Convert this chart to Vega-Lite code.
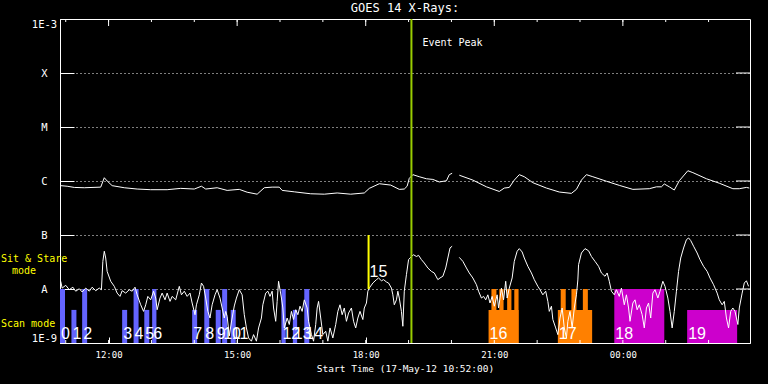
{
  "$schema": "https://vega.github.io/schema/vega-lite/v6.json",
  "width": 690,
  "height": 324,
  "autosize": "none",
  "padding": {"left": 60, "top": 19, "right": 18, "bottom": 41},
  "background": "black",
  "title": {"text": "GOES 14 X-Rays:", "color": "white", "font": "DejaVu Sans Mono", "fontSize": 12, "fontWeight": "normal", "anchor": "middle", "offset": 3},
  "config": {"view": {"stroke": "white", "strokeWidth": 1}},
  "datasets": {
    "hours": [
      {"t": "2012-05-17T11:00", "major": false}, {"t": "2012-05-17T12:00", "major": true},
      {"t": "2012-05-17T13:00", "major": false}, {"t": "2012-05-17T14:00", "major": false},
      {"t": "2012-05-17T15:00", "major": true}, {"t": "2012-05-17T16:00", "major": false},
      {"t": "2012-05-17T17:00", "major": false}, {"t": "2012-05-17T18:00", "major": true},
      {"t": "2012-05-17T19:00", "major": false}, {"t": "2012-05-17T20:00", "major": false},
      {"t": "2012-05-17T21:00", "major": true}, {"t": "2012-05-17T22:00", "major": false},
      {"t": "2012-05-17T23:00", "major": false}, {"t": "2012-05-18T00:00", "major": true},
      {"t": "2012-05-18T01:00", "major": false}, {"t": "2012-05-18T02:00", "major": false}
    ],
    "decades": [{"v": 1e-8}, {"v": 1e-7}, {"v": 1e-6}, {"v": 1e-5}, {"v": 1e-4}],
    "bars": [
      {"grp": "blue", "t": "2012-05-17T10:52", "t2": "2012-05-17T10:59", "v": 1e-8},
      {"grp": "blue", "t": "2012-05-17T11:08", "t2": "2012-05-17T11:15", "v": 4.1e-9},
      {"grp": "blue", "t": "2012-05-17T11:23", "t2": "2012-05-17T11:30", "v": 1e-8},
      {"grp": "blue", "t": "2012-05-17T12:19", "t2": "2012-05-17T12:26", "v": 4.1e-9},
      {"grp": "blue", "t": "2012-05-17T12:35", "t2": "2012-05-17T12:42", "v": 1e-8},
      {"grp": "blue", "t": "2012-05-17T12:50", "t2": "2012-05-17T12:57", "v": 4.1e-9},
      {"grp": "blue", "t": "2012-05-17T13:01", "t2": "2012-05-17T13:07", "v": 1e-8},
      {"grp": "blue", "t": "2012-05-17T13:57", "t2": "2012-05-17T14:04", "v": 4.1e-9},
      {"grp": "blue", "t": "2012-05-17T14:14", "t2": "2012-05-17T14:21", "v": 1e-8},
      {"grp": "blue", "t": "2012-05-17T14:30", "t2": "2012-05-17T14:37", "v": 4.1e-9},
      {"grp": "blue", "t": "2012-05-17T14:39", "t2": "2012-05-17T14:46", "v": 1e-8},
      {"grp": "blue", "t": "2012-05-17T14:51", "t2": "2012-05-17T14:58", "v": 4.1e-9},
      {"grp": "blue", "t": "2012-05-17T16:02", "t2": "2012-05-17T16:08", "v": 1e-8},
      {"grp": "blue", "t": "2012-05-17T16:18", "t2": "2012-05-17T16:24", "v": 4.1e-9},
      {"grp": "blue", "t": "2012-05-17T16:34", "t2": "2012-05-17T16:41", "v": 1e-8},
      {"grp": "orange", "t": "2012-05-17T20:52", "t2": "2012-05-17T21:34", "v": 4.1e-9},
      {"grp": "orange", "t": "2012-05-17T20:56", "t2": "2012-05-17T21:03", "v": 1e-8},
      {"grp": "orange", "t": "2012-05-17T21:07", "t2": "2012-05-17T21:13", "v": 1e-8},
      {"grp": "orange", "t": "2012-05-17T21:18", "t2": "2012-05-17T21:24", "v": 1e-8},
      {"grp": "orange", "t": "2012-05-17T21:28", "t2": "2012-05-17T21:34", "v": 1e-8},
      {"grp": "orange", "t": "2012-05-17T22:29", "t2": "2012-05-17T23:17", "v": 4.1e-9},
      {"grp": "orange", "t": "2012-05-17T22:33", "t2": "2012-05-17T22:40", "v": 1e-8},
      {"grp": "orange", "t": "2012-05-17T22:48", "t2": "2012-05-17T22:55", "v": 1e-8},
      {"grp": "orange", "t": "2012-05-17T23:04", "t2": "2012-05-17T23:11", "v": 1e-8},
      {"grp": "magenta", "t": "2012-05-17T23:48", "t2": "2012-05-18T00:58", "v": 1e-8},
      {"grp": "magenta", "t": "2012-05-18T01:30", "t2": "2012-05-18T02:40", "v": 4.1e-9}
    ],
    "labels": [
      {"label": "0", "t": "2012-05-17T10:52", "v": 1e-9},
      {"label": "1", "t": "2012-05-17T11:08", "v": 1e-9},
      {"label": "2", "t": "2012-05-17T11:23", "v": 1e-9},
      {"label": "3", "t": "2012-05-17T12:19", "v": 1e-9},
      {"label": "4", "t": "2012-05-17T12:35", "v": 1e-9},
      {"label": "5", "t": "2012-05-17T12:50", "v": 1e-9},
      {"label": "6", "t": "2012-05-17T13:01", "v": 1e-9},
      {"label": "7", "t": "2012-05-17T13:57", "v": 1e-9},
      {"label": "8", "t": "2012-05-17T14:14", "v": 1e-9},
      {"label": "9", "t": "2012-05-17T14:30", "v": 1e-9},
      {"label": "10", "t": "2012-05-17T14:39", "v": 1e-9},
      {"label": "11", "t": "2012-05-17T14:51", "v": 1e-9},
      {"label": "12", "t": "2012-05-17T16:02", "v": 1e-9},
      {"label": "13", "t": "2012-05-17T16:18", "v": 1e-9},
      {"label": "14", "t": "2012-05-17T16:34", "v": 1e-9},
      {"label": "15", "t": "2012-05-17T18:04", "v": 1.4e-8},
      {"label": "16", "t": "2012-05-17T20:52", "v": 1e-9},
      {"label": "17", "t": "2012-05-17T22:29", "v": 1e-9},
      {"label": "18", "t": "2012-05-17T23:48", "v": 1e-9},
      {"label": "19", "t": "2012-05-18T01:30", "v": 1e-9}
    ],
    "flux": [
      {"s": "hi", "t": "2012-05-17T10:53", "v": 8.2e-7},
      {"s": "hi", "t": "2012-05-17T11:02", "v": 8.0e-7},
      {"s": "hi", "t": "2012-05-17T11:12", "v": 7.6e-7},
      {"s": "hi", "t": "2012-05-17T11:26", "v": 7.5e-7},
      {"s": "hi", "t": "2012-05-17T11:49", "v": 7.7e-7},
      {"s": "hi", "t": "2012-05-17T11:54", "v": 1.15e-6},
      {"s": "hi", "t": "2012-05-17T11:58", "v": 1.0e-6},
      {"s": "hi", "t": "2012-05-17T12:05", "v": 8.2e-7},
      {"s": "hi", "t": "2012-05-17T12:22", "v": 7.5e-7},
      {"s": "hi", "t": "2012-05-17T12:40", "v": 7.1e-7},
      {"s": "hi", "t": "2012-05-17T12:59", "v": 6.9e-7},
      {"s": "hi", "t": "2012-05-17T13:22", "v": 6.9e-7},
      {"s": "hi", "t": "2012-05-17T13:41", "v": 7.3e-7},
      {"s": "hi", "t": "2012-05-17T14:00", "v": 7.1e-7},
      {"s": "hi", "t": "2012-05-17T14:10", "v": 8.0e-7},
      {"s": "hi", "t": "2012-05-17T14:16", "v": 7.1e-7},
      {"s": "hi", "t": "2012-05-17T14:32", "v": 7.5e-7},
      {"s": "hi", "t": "2012-05-17T14:46", "v": 6.7e-7},
      {"s": "hi", "t": "2012-05-17T15:03", "v": 7.0e-7},
      {"s": "hi", "t": "2012-05-17T15:14", "v": 6.2e-7},
      {"s": "hi", "t": "2012-05-17T15:28", "v": 5.7e-7},
      {"s": "hi", "t": "2012-05-17T15:38", "v": 7.5e-7},
      {"s": "hi", "t": "2012-05-17T15:49", "v": 7.7e-7},
      {"s": "hi", "t": "2012-05-17T15:59", "v": 7.7e-7},
      {"s": "hi", "t": "2012-05-17T16:03", "v": 6.7e-7},
      {"s": "hi", "t": "2012-05-17T16:20", "v": 6.3e-7},
      {"s": "hi", "t": "2012-05-17T16:43", "v": 5.8e-7},
      {"s": "hi", "t": "2012-05-17T17:02", "v": 5.7e-7},
      {"s": "hi", "t": "2012-05-17T17:20", "v": 6.0e-7},
      {"s": "hi", "t": "2012-05-17T17:39", "v": 5.7e-7},
      {"s": "hi", "t": "2012-05-17T17:58", "v": 6.0e-7},
      {"s": "hi", "t": "2012-05-17T18:05", "v": 7.3e-7},
      {"s": "hi", "t": "2012-05-17T18:19", "v": 8.9e-7},
      {"s": "hi", "t": "2012-05-17T18:35", "v": 8.4e-7},
      {"s": "hi", "t": "2012-05-17T18:47", "v": 7.0e-7},
      {"s": "hi", "t": "2012-05-17T18:54", "v": 7.1e-7},
      {"s": "hi", "t": "2012-05-17T18:58", "v": 8.0e-7},
      {"s": "hi", "t": "2012-05-17T19:01", "v": 1.12e-6},
      {"s": "hi", "t": "2012-05-17T19:06", "v": 1.31e-6},
      {"s": "hi", "t": "2012-05-17T19:15", "v": 1.2e-6},
      {"s": "hi", "t": "2012-05-17T19:25", "v": 1.1e-6},
      {"s": "hi", "t": "2012-05-17T19:34", "v": 1.07e-6},
      {"s": "hi", "t": "2012-05-17T19:43", "v": 9.6e-7},
      {"s": "hi", "t": "2012-05-17T19:53", "v": 1.01e-6},
      {"s": "hi", "t": "2012-05-17T19:57", "v": 1.31e-6},
      {"s": "hi", "t": "2012-05-17T20:01", "v": 1.39e-6},
      {"s": "hi2", "t": "2012-05-17T20:11", "v": 1.28e-6},
      {"s": "hi2", "t": "2012-05-17T20:30", "v": 1.04e-6},
      {"s": "hi2", "t": "2012-05-17T20:49", "v": 7.8e-7},
      {"s": "hi2", "t": "2012-05-17T21:07", "v": 6.4e-7},
      {"s": "hi2", "t": "2012-05-17T21:14", "v": 7.4e-7},
      {"s": "hi2", "t": "2012-05-17T21:21", "v": 7.6e-7},
      {"s": "hi2", "t": "2012-05-17T21:28", "v": 1.04e-6},
      {"s": "hi2", "t": "2012-05-17T21:35", "v": 1.31e-6},
      {"s": "hi2", "t": "2012-05-17T21:42", "v": 1.2e-6},
      {"s": "hi2", "t": "2012-05-17T21:54", "v": 9.3e-7},
      {"s": "hi2", "t": "2012-05-17T22:13", "v": 7.4e-7},
      {"s": "hi2", "t": "2012-05-17T22:31", "v": 6.25e-7},
      {"s": "hi2", "t": "2012-05-17T22:48", "v": 5.9e-7},
      {"s": "hi2", "t": "2012-05-17T22:55", "v": 7.0e-7},
      {"s": "hi2", "t": "2012-05-17T23:02", "v": 1.04e-6},
      {"s": "hi2", "t": "2012-05-17T23:09", "v": 1.31e-6},
      {"s": "hi2", "t": "2012-05-17T23:18", "v": 1.2e-6},
      {"s": "hi2", "t": "2012-05-17T23:37", "v": 9.9e-7},
      {"s": "hi2", "t": "2012-05-17T23:55", "v": 8.3e-7},
      {"s": "hi2", "t": "2012-05-18T00:14", "v": 7.0e-7},
      {"s": "hi2", "t": "2012-05-18T00:37", "v": 7.2e-7},
      {"s": "hi2", "t": "2012-05-18T00:47", "v": 7.8e-7},
      {"s": "hi2", "t": "2012-05-18T00:54", "v": 7.8e-7},
      {"s": "hi2", "t": "2012-05-18T00:58", "v": 8.8e-7},
      {"s": "hi2", "t": "2012-05-18T01:05", "v": 7.8e-7},
      {"s": "hi2", "t": "2012-05-18T01:12", "v": 6.8e-7},
      {"s": "hi2", "t": "2012-05-18T01:19", "v": 1.01e-6},
      {"s": "hi2", "t": "2012-05-18T01:31", "v": 1.55e-6},
      {"s": "hi2", "t": "2012-05-18T01:38", "v": 1.43e-6},
      {"s": "hi2", "t": "2012-05-18T01:57", "v": 1.1e-6},
      {"s": "hi2", "t": "2012-05-18T02:15", "v": 9.1e-7},
      {"s": "hi2", "t": "2012-05-18T02:34", "v": 7.2e-7},
      {"s": "hi2", "t": "2012-05-18T02:43", "v": 7.2e-7},
      {"s": "hi2", "t": "2012-05-18T02:53", "v": 7.6e-7},
      {"s": "hi2", "t": "2012-05-18T02:57", "v": 7.4e-7},
      {"s": "lo", "t": "2012-05-17T10:53", "v": 1.39e-8},
      {"s": "lo", "t": "2012-05-17T10:55", "v": 1.04e-8},
      {"s": "lo", "t": "2012-05-17T11:00", "v": 1.17e-8},
      {"s": "lo", "t": "2012-05-17T11:05", "v": 9.7e-9},
      {"s": "lo", "t": "2012-05-17T11:10", "v": 1.08e-8},
      {"s": "lo", "t": "2012-05-17T11:14", "v": 9.1e-9},
      {"s": "lo", "t": "2012-05-17T11:19", "v": 1.01e-8},
      {"s": "lo", "t": "2012-05-17T11:23", "v": 8.8e-9},
      {"s": "lo", "t": "2012-05-17T11:28", "v": 1.04e-8},
      {"s": "lo", "t": "2012-05-17T11:33", "v": 9.1e-9},
      {"s": "lo", "t": "2012-05-17T11:37", "v": 1.08e-8},
      {"s": "lo", "t": "2012-05-17T11:42", "v": 9.3e-9},
      {"s": "lo", "t": "2012-05-17T11:47", "v": 1.04e-8},
      {"s": "lo", "t": "2012-05-17T11:50", "v": 9.7e-9},
      {"s": "lo", "t": "2012-05-17T11:52", "v": 3.25e-8},
      {"s": "lo", "t": "2012-05-17T11:54", "v": 5.0e-8},
      {"s": "lo", "t": "2012-05-17T11:56", "v": 3.75e-8},
      {"s": "lo", "t": "2012-05-17T11:58", "v": 2.12e-8},
      {"s": "lo", "t": "2012-05-17T12:03", "v": 1.39e-8},
      {"s": "lo", "t": "2012-05-17T12:08", "v": 1.12e-8},
      {"s": "lo", "t": "2012-05-17T12:12", "v": 8.4e-9},
      {"s": "lo", "t": "2012-05-17T12:16", "v": 7.3e-9},
      {"s": "lo", "t": "2012-05-17T12:19", "v": 9.3e-9},
      {"s": "lo", "t": "2012-05-17T12:24", "v": 8.4e-9},
      {"s": "lo", "t": "2012-05-17T12:29", "v": 9.7e-9},
      {"s": "lo", "t": "2012-05-17T12:33", "v": 9.1e-9},
      {"s": "lo", "t": "2012-05-17T12:37", "v": 1.08e-8},
      {"s": "lo", "t": "2012-05-17T12:40", "v": 7.8e-9},
      {"s": "lo", "t": "2012-05-17T12:45", "v": 5.1e-9},
      {"s": "lo", "t": "2012-05-17T12:49", "v": 3.85e-9},
      {"s": "lo", "t": "2012-05-17T12:52", "v": 5.1e-9},
      {"s": "lo", "t": "2012-05-17T12:55", "v": 7.3e-9},
      {"s": "lo", "t": "2012-05-17T12:59", "v": 6.3e-9},
      {"s": "lo", "t": "2012-05-17T13:03", "v": 9.1e-9},
      {"s": "lo", "t": "2012-05-17T13:06", "v": 6.8e-9},
      {"s": "lo", "t": "2012-05-17T13:08", "v": 4.13e-9},
      {"s": "lo", "t": "2012-05-17T13:12", "v": 6.8e-9},
      {"s": "lo", "t": "2012-05-17T13:15", "v": 8.4e-9},
      {"s": "lo", "t": "2012-05-17T13:19", "v": 6.3e-9},
      {"s": "lo", "t": "2012-05-17T13:22", "v": 8.4e-9},
      {"s": "lo", "t": "2012-05-17T13:26", "v": 5.9e-9},
      {"s": "lo", "t": "2012-05-17T13:29", "v": 7.3e-9},
      {"s": "lo", "t": "2012-05-17T13:34", "v": 6.3e-9},
      {"s": "lo", "t": "2012-05-17T13:39", "v": 1.12e-8},
      {"s": "lo", "t": "2012-05-17T13:42", "v": 7.8e-9},
      {"s": "lo", "t": "2012-05-17T13:46", "v": 9.1e-9},
      {"s": "lo", "t": "2012-05-17T13:50", "v": 7.3e-9},
      {"s": "lo", "t": "2012-05-17T13:54", "v": 8.4e-9},
      {"s": "lo", "t": "2012-05-17T13:57", "v": 5.5e-9},
      {"s": "lo", "t": "2012-05-17T14:01", "v": 3.34e-9},
      {"s": "lo", "t": "2012-05-17T14:03", "v": 5.1e-9},
      {"s": "lo", "t": "2012-05-17T14:07", "v": 7.8e-9},
      {"s": "lo", "t": "2012-05-17T14:10", "v": 1.29e-8},
      {"s": "lo", "t": "2012-05-17T14:13", "v": 1.12e-8},
      {"s": "lo", "t": "2012-05-17T14:16", "v": 6.8e-9},
      {"s": "lo", "t": "2012-05-17T14:19", "v": 3.85e-9},
      {"s": "lo", "t": "2012-05-17T14:22", "v": 2.9e-9},
      {"s": "lo", "t": "2012-05-17T14:25", "v": 5.1e-9},
      {"s": "lo", "t": "2012-05-17T14:29", "v": 7.8e-9},
      {"s": "lo", "t": "2012-05-17T14:32", "v": 9.7e-9},
      {"s": "lo", "t": "2012-05-17T14:36", "v": 6.8e-9},
      {"s": "lo", "t": "2012-05-17T14:39", "v": 4.45e-9},
      {"s": "lo", "t": "2012-05-17T14:42", "v": 2.9e-9},
      {"s": "lo", "t": "2012-05-17T14:44", "v": 3.85e-9},
      {"s": "lo", "t": "2012-05-17T14:46", "v": 3.12e-9},
      {"s": "lo", "t": "2012-05-17T14:49", "v": 1.35e-9},
      {"s": "lo", "t": "2012-05-17T14:52", "v": 2.45e-9},
      {"s": "lo", "t": "2012-05-17T14:56", "v": 4.85e-9},
      {"s": "lo", "t": "2012-05-17T14:59", "v": 6.8e-9},
      {"s": "lo", "t": "2012-05-17T15:03", "v": 9.7e-9},
      {"s": "lo", "t": "2012-05-17T15:07", "v": 7.8e-9},
      {"s": "lo", "t": "2012-05-17T15:10", "v": 3.34e-9},
      {"s": "lo", "t": "2012-05-17T15:13", "v": 1.9e-9},
      {"s": "lo", "t": "2012-05-17T15:16", "v": 1.24e-9},
      {"s": "lo", "t": "2012-05-17T15:20", "v": 1.08e-9},
      {"s": "lo", "t": "2012-05-17T15:23", "v": 1.43e-9},
      {"s": "lo", "t": "2012-05-17T15:27", "v": 1.08e-9},
      {"s": "lo", "t": "2012-05-17T15:30", "v": 1.9e-9},
      {"s": "lo", "t": "2012-05-17T15:34", "v": 2.9e-9},
      {"s": "lo", "t": "2012-05-17T15:36", "v": 5.1e-9},
      {"s": "lo", "t": "2012-05-17T15:40", "v": 8.4e-9},
      {"s": "lo", "t": "2012-05-17T15:43", "v": 9.1e-9},
      {"s": "lo", "t": "2012-05-17T15:46", "v": 7.3e-9},
      {"s": "lo", "t": "2012-05-17T15:49", "v": 9.1e-9},
      {"s": "lo", "t": "2012-05-17T15:51", "v": 4.45e-9},
      {"s": "lo", "t": "2012-05-17T15:54", "v": 2.52e-9},
      {"s": "lo", "t": "2012-05-17T15:56", "v": 5.9e-9},
      {"s": "lo", "t": "2012-05-17T15:58", "v": 1.39e-8},
      {"s": "lo", "t": "2012-05-17T16:02", "v": 6.8e-9},
      {"s": "lo", "t": "2012-05-17T16:04", "v": 4.45e-9},
      {"s": "lo", "t": "2012-05-17T16:06", "v": 1.9e-9},
      {"s": "lo", "t": "2012-05-17T16:10", "v": 2.9e-9},
      {"s": "lo", "t": "2012-05-17T16:13", "v": 2.2e-9},
      {"s": "lo", "t": "2012-05-17T16:16", "v": 3.85e-9},
      {"s": "lo", "t": "2012-05-17T16:19", "v": 2.72e-9},
      {"s": "lo", "t": "2012-05-17T16:22", "v": 4.13e-9},
      {"s": "lo", "t": "2012-05-17T16:25", "v": 3.34e-9},
      {"s": "lo", "t": "2012-05-17T16:28", "v": 4.8e-9},
      {"s": "lo", "t": "2012-05-17T16:31", "v": 3.85e-9},
      {"s": "lo", "t": "2012-05-17T16:34", "v": 6.3e-9},
      {"s": "lo", "t": "2012-05-17T16:38", "v": 4.45e-9},
      {"s": "lo", "t": "2012-05-17T16:40", "v": 2.52e-9},
      {"s": "lo", "t": "2012-05-17T16:44", "v": 1.43e-9},
      {"s": "lo", "t": "2012-05-17T16:47", "v": 1.08e-9},
      {"s": "lo", "t": "2012-05-17T16:50", "v": 2.2e-9},
      {"s": "lo", "t": "2012-05-17T16:52", "v": 4.45e-9},
      {"s": "lo", "t": "2012-05-17T16:54", "v": 5.9e-9},
      {"s": "lo", "t": "2012-05-17T16:57", "v": 2.9e-9},
      {"s": "lo", "t": "2012-05-17T17:00", "v": 1.43e-9},
      {"s": "lo", "t": "2012-05-17T17:04", "v": 1.65e-9},
      {"s": "lo", "t": "2012-05-17T17:07", "v": 1.08e-9},
      {"s": "lo", "t": "2012-05-17T17:10", "v": 1.9e-9},
      {"s": "lo", "t": "2012-05-17T17:14", "v": 1.24e-9},
      {"s": "lo", "t": "2012-05-17T17:18", "v": 2.2e-9},
      {"s": "lo", "t": "2012-05-17T17:21", "v": 3.85e-9},
      {"s": "lo", "t": "2012-05-17T17:24", "v": 5.1e-9},
      {"s": "lo", "t": "2012-05-17T17:27", "v": 3.34e-9},
      {"s": "lo", "t": "2012-05-17T17:30", "v": 4.45e-9},
      {"s": "lo", "t": "2012-05-17T17:33", "v": 2.52e-9},
      {"s": "lo", "t": "2012-05-17T17:36", "v": 3.59e-9},
      {"s": "lo", "t": "2012-05-17T17:40", "v": 4.45e-9},
      {"s": "lo", "t": "2012-05-17T17:43", "v": 2.52e-9},
      {"s": "lo", "t": "2012-05-17T17:46", "v": 1.9e-9},
      {"s": "lo", "t": "2012-05-17T17:49", "v": 2.9e-9},
      {"s": "lo", "t": "2012-05-17T17:52", "v": 3.85e-9},
      {"s": "lo", "t": "2012-05-17T17:56", "v": 2.72e-9},
      {"s": "lo", "t": "2012-05-17T17:58", "v": 4.45e-9},
      {"s": "lo", "t": "2012-05-17T18:01", "v": 5.5e-9},
      {"s": "lo", "t": "2012-05-17T18:03", "v": 9.1e-9},
      {"s": "lo", "t": "2012-05-17T18:05", "v": 1.04e-8},
      {"s": "lo", "t": "2012-05-17T18:10", "v": 1.29e-8},
      {"s": "lo", "t": "2012-05-17T18:15", "v": 1.49e-8},
      {"s": "lo", "t": "2012-05-17T18:18", "v": 1.6e-8},
      {"s": "lo", "t": "2012-05-17T18:22", "v": 1.42e-8},
      {"s": "lo", "t": "2012-05-17T18:25", "v": 1.49e-8},
      {"s": "lo", "t": "2012-05-17T18:29", "v": 1.35e-8},
      {"s": "lo", "t": "2012-05-17T18:32", "v": 1.29e-8},
      {"s": "lo", "t": "2012-05-17T18:36", "v": 1.04e-8},
      {"s": "lo", "t": "2012-05-17T18:38", "v": 7.8e-9},
      {"s": "lo", "t": "2012-05-17T18:40", "v": 5.1e-9},
      {"s": "lo", "t": "2012-05-17T18:43", "v": 6.3e-9},
      {"s": "lo", "t": "2012-05-17T18:45", "v": 9.1e-9},
      {"s": "lo", "t": "2012-05-17T18:47", "v": 6.8e-9},
      {"s": "lo", "t": "2012-05-17T18:50", "v": 3.85e-9},
      {"s": "lo", "t": "2012-05-17T18:52", "v": 2.04e-9},
      {"s": "lo", "t": "2012-05-17T18:54", "v": 9.1e-9},
      {"s": "lo", "t": "2012-05-17T18:57", "v": 1.84e-8},
      {"s": "lo", "t": "2012-05-17T19:00", "v": 3.5e-8},
      {"s": "lo", "t": "2012-05-17T19:04", "v": 4.0e-8},
      {"s": "lo", "t": "2012-05-17T19:07", "v": 4.3e-8},
      {"s": "lo", "t": "2012-05-17T19:11", "v": 4.0e-8},
      {"s": "lo", "t": "2012-05-17T19:14", "v": 4.2e-8},
      {"s": "lo", "t": "2012-05-17T19:18", "v": 3.5e-8},
      {"s": "lo", "t": "2012-05-17T19:22", "v": 3.03e-8},
      {"s": "lo", "t": "2012-05-17T19:27", "v": 2.45e-8},
      {"s": "lo", "t": "2012-05-17T19:32", "v": 2.12e-8},
      {"s": "lo", "t": "2012-05-17T19:36", "v": 1.98e-8},
      {"s": "lo", "t": "2012-05-17T19:41", "v": 1.49e-8},
      {"s": "lo", "t": "2012-05-17T19:44", "v": 1.6e-8},
      {"s": "lo", "t": "2012-05-17T19:48", "v": 1.72e-8},
      {"s": "lo", "t": "2012-05-17T19:52", "v": 2.45e-8},
      {"s": "lo", "t": "2012-05-17T19:55", "v": 3.75e-8},
      {"s": "lo", "t": "2012-05-17T19:58", "v": 5.75e-8},
      {"s": "lo", "t": "2012-05-17T20:01", "v": 6.2e-8},
      {"s": "lo2", "t": "2012-05-17T20:11", "v": 3.85e-8},
      {"s": "lo2", "t": "2012-05-17T20:16", "v": 3.25e-8},
      {"s": "lo2", "t": "2012-05-17T20:21", "v": 2.45e-8},
      {"s": "lo2", "t": "2012-05-17T20:25", "v": 1.98e-8},
      {"s": "lo2", "t": "2012-05-17T20:30", "v": 1.6e-8},
      {"s": "lo2", "t": "2012-05-17T20:35", "v": 1.2e-8},
      {"s": "lo2", "t": "2012-05-17T20:38", "v": 9.1e-9},
      {"s": "lo2", "t": "2012-05-17T20:42", "v": 6.8e-9},
      {"s": "lo2", "t": "2012-05-17T20:45", "v": 7.3e-9},
      {"s": "lo2", "t": "2012-05-17T20:48", "v": 6.3e-9},
      {"s": "lo2", "t": "2012-05-17T20:51", "v": 7.8e-9},
      {"s": "lo2", "t": "2012-05-17T20:54", "v": 5.5e-9},
      {"s": "lo2", "t": "2012-05-17T20:57", "v": 7.3e-9},
      {"s": "lo2", "t": "2012-05-17T21:00", "v": 4.8e-9},
      {"s": "lo2", "t": "2012-05-17T21:04", "v": 7.8e-9},
      {"s": "lo2", "t": "2012-05-17T21:06", "v": 4.45e-9},
      {"s": "lo2", "t": "2012-05-17T21:10", "v": 1.04e-8},
      {"s": "lo2", "t": "2012-05-17T21:13", "v": 6.3e-9},
      {"s": "lo2", "t": "2012-05-17T21:16", "v": 1.39e-8},
      {"s": "lo2", "t": "2012-05-17T21:18", "v": 6.8e-9},
      {"s": "lo2", "t": "2012-05-17T21:21", "v": 1.04e-8},
      {"s": "lo2", "t": "2012-05-17T21:25", "v": 1.6e-8},
      {"s": "lo2", "t": "2012-05-17T21:28", "v": 3.25e-8},
      {"s": "lo2", "t": "2012-05-17T21:32", "v": 5.0e-8},
      {"s": "lo2", "t": "2012-05-17T21:35", "v": 5.6e-8},
      {"s": "lo2", "t": "2012-05-17T21:39", "v": 4.85e-8},
      {"s": "lo2", "t": "2012-05-17T21:42", "v": 3.75e-8},
      {"s": "lo2", "t": "2012-05-17T21:47", "v": 2.63e-8},
      {"s": "lo2", "t": "2012-05-17T21:52", "v": 1.98e-8},
      {"s": "lo2", "t": "2012-05-17T21:56", "v": 1.49e-8},
      {"s": "lo2", "t": "2012-05-17T22:01", "v": 1.12e-8},
      {"s": "lo2", "t": "2012-05-17T22:04", "v": 9.7e-9},
      {"s": "lo2", "t": "2012-05-17T22:08", "v": 7.8e-9},
      {"s": "lo2", "t": "2012-05-17T22:12", "v": 9.1e-9},
      {"s": "lo2", "t": "2012-05-17T22:15", "v": 5.9e-9},
      {"s": "lo2", "t": "2012-05-17T22:17", "v": 3.85e-9},
      {"s": "lo2", "t": "2012-05-17T22:20", "v": 4.8e-9},
      {"s": "lo2", "t": "2012-05-17T22:22", "v": 2.72e-9},
      {"s": "lo2", "t": "2012-05-17T22:26", "v": 1.9e-9},
      {"s": "lo2", "t": "2012-05-17T22:29", "v": 1.43e-9},
      {"s": "lo2", "t": "2012-05-17T22:32", "v": 2.9e-9},
      {"s": "lo2", "t": "2012-05-17T22:35", "v": 4.45e-9},
      {"s": "lo2", "t": "2012-05-17T22:38", "v": 1.9e-9},
      {"s": "lo2", "t": "2012-05-17T22:41", "v": 1.24e-9},
      {"s": "lo2", "t": "2012-05-17T22:43", "v": 2.52e-9},
      {"s": "lo2", "t": "2012-05-17T22:46", "v": 3.85e-9},
      {"s": "lo2", "t": "2012-05-17T22:49", "v": 1.9e-9},
      {"s": "lo2", "t": "2012-05-17T22:52", "v": 4.45e-9},
      {"s": "lo2", "t": "2012-05-17T22:55", "v": 7.8e-9},
      {"s": "lo2", "t": "2012-05-17T22:57", "v": 1.47e-8},
      {"s": "lo2", "t": "2012-05-17T22:58", "v": 2.82e-8},
      {"s": "lo2", "t": "2012-05-17T23:02", "v": 4.64e-8},
      {"s": "lo2", "t": "2012-05-17T23:07", "v": 5.6e-8},
      {"s": "lo2", "t": "2012-05-17T23:12", "v": 5.1e-8},
      {"s": "lo2", "t": "2012-05-17T23:16", "v": 4.0e-8},
      {"s": "lo2", "t": "2012-05-17T23:21", "v": 3.25e-8},
      {"s": "lo2", "t": "2012-05-17T23:26", "v": 2.63e-8},
      {"s": "lo2", "t": "2012-05-17T23:30", "v": 1.98e-8},
      {"s": "lo2", "t": "2012-05-17T23:35", "v": 1.72e-8},
      {"s": "lo2", "t": "2012-05-17T23:38", "v": 1.98e-8},
      {"s": "lo2", "t": "2012-05-17T23:41", "v": 1.39e-8},
      {"s": "lo2", "t": "2012-05-17T23:44", "v": 9.1e-9},
      {"s": "lo2", "t": "2012-05-17T23:48", "v": 7.8e-9},
      {"s": "lo2", "t": "2012-05-17T23:51", "v": 9.7e-9},
      {"s": "lo2", "t": "2012-05-17T23:55", "v": 7.3e-9},
      {"s": "lo2", "t": "2012-05-17T23:58", "v": 1.04e-8},
      {"s": "lo2", "t": "2012-05-18T00:02", "v": 5.1e-9},
      {"s": "lo2", "t": "2012-05-18T00:05", "v": 7.8e-9},
      {"s": "lo2", "t": "2012-05-18T00:08", "v": 4.45e-9},
      {"s": "lo2", "t": "2012-05-18T00:10", "v": 2.52e-9},
      {"s": "lo2", "t": "2012-05-18T00:14", "v": 5.5e-9},
      {"s": "lo2", "t": "2012-05-18T00:17", "v": 6.3e-9},
      {"s": "lo2", "t": "2012-05-18T00:20", "v": 4.13e-9},
      {"s": "lo2", "t": "2012-05-18T00:23", "v": 5.1e-9},
      {"s": "lo2", "t": "2012-05-18T00:27", "v": 3.34e-9},
      {"s": "lo2", "t": "2012-05-18T00:30", "v": 1.9e-9},
      {"s": "lo2", "t": "2012-05-18T00:33", "v": 4.45e-9},
      {"s": "lo2", "t": "2012-05-18T00:36", "v": 5.5e-9},
      {"s": "lo2", "t": "2012-05-18T00:39", "v": 2.9e-9},
      {"s": "lo2", "t": "2012-05-18T00:42", "v": 8.4e-9},
      {"s": "lo2", "t": "2012-05-18T00:45", "v": 9.7e-9},
      {"s": "lo2", "t": "2012-05-18T00:49", "v": 6.8e-9},
      {"s": "lo2", "t": "2012-05-18T00:52", "v": 9.1e-9},
      {"s": "lo2", "t": "2012-05-18T00:56", "v": 1.39e-8},
      {"s": "lo2", "t": "2012-05-18T00:59", "v": 1.12e-8},
      {"s": "lo2", "t": "2012-05-18T01:03", "v": 6.8e-9},
      {"s": "lo2", "t": "2012-05-18T01:06", "v": 3.85e-9},
      {"s": "lo2", "t": "2012-05-18T01:09", "v": 1.9e-9},
      {"s": "lo2", "t": "2012-05-18T01:12", "v": 3.85e-9},
      {"s": "lo2", "t": "2012-05-18T01:15", "v": 9.1e-9},
      {"s": "lo2", "t": "2012-05-18T01:18", "v": 2.12e-8},
      {"s": "lo2", "t": "2012-05-18T01:21", "v": 3.75e-8},
      {"s": "lo2", "t": "2012-05-18T01:25", "v": 5.75e-8},
      {"s": "lo2", "t": "2012-05-18T01:29", "v": 8.2e-8},
      {"s": "lo2", "t": "2012-05-18T01:32", "v": 8.8e-8},
      {"s": "lo2", "t": "2012-05-18T01:35", "v": 7.9e-8},
      {"s": "lo2", "t": "2012-05-18T01:39", "v": 6.2e-8},
      {"s": "lo2", "t": "2012-05-18T01:44", "v": 4.64e-8},
      {"s": "lo2", "t": "2012-05-18T01:48", "v": 3.5e-8},
      {"s": "lo2", "t": "2012-05-18T01:53", "v": 2.63e-8},
      {"s": "lo2", "t": "2012-05-18T01:58", "v": 2.12e-8},
      {"s": "lo2", "t": "2012-05-18T02:02", "v": 1.6e-8},
      {"s": "lo2", "t": "2012-05-18T02:07", "v": 1.2e-8},
      {"s": "lo2", "t": "2012-05-18T02:12", "v": 8.4e-9},
      {"s": "lo2", "t": "2012-05-18T02:15", "v": 6.3e-9},
      {"s": "lo2", "t": "2012-05-18T02:19", "v": 5.1e-9},
      {"s": "lo2", "t": "2012-05-18T02:22", "v": 5.9e-9},
      {"s": "lo2", "t": "2012-05-18T02:25", "v": 2.9e-9},
      {"s": "lo2", "t": "2012-05-18T02:28", "v": 1.9e-9},
      {"s": "lo2", "t": "2012-05-18T02:31", "v": 3.85e-9},
      {"s": "lo2", "t": "2012-05-18T02:34", "v": 4.45e-9},
      {"s": "lo2", "t": "2012-05-18T02:37", "v": 3.85e-9},
      {"s": "lo2", "t": "2012-05-18T02:41", "v": 2.2e-9},
      {"s": "lo2", "t": "2012-05-18T02:43", "v": 4.45e-9},
      {"s": "lo2", "t": "2012-05-18T02:47", "v": 8.4e-9},
      {"s": "lo2", "t": "2012-05-18T02:50", "v": 1.29e-8},
      {"s": "lo2", "t": "2012-05-18T02:53", "v": 1.42e-8},
      {"s": "lo2", "t": "2012-05-18T02:56", "v": 1.12e-8}
    ]
  },
  "layer": [
    {
      "data": {"name": "bars"},
      "mark": {"type": "rect"},
      "encoding": {
        "x": {"field": "t", "type": "temporal",
          "scale": {"type": "time", "nice": false, "domain": [{"year": 2012, "month": 5, "date": 17, "hours": 10, "minutes": 52}, {"year": 2012, "month": 5, "date": 18, "hours": 2, "minutes": 58}]},
          "axis": {"orient": "bottom",
            "values": [{"year": 2012, "month": 5, "date": 17, "hours": 12}, {"year": 2012, "month": 5, "date": 17, "hours": 15}, {"year": 2012, "month": 5, "date": 17, "hours": 18}, {"year": 2012, "month": 5, "date": 17, "hours": 21}, {"year": 2012, "month": 5, "date": 18, "hours": 0}],
            "format": "%H:%M",
            "labelColor": "white", "labelFont": "DejaVu Sans Mono", "labelFontSize": 9, "labelPadding": 13,
            "labelFlush": false, "labelOverlap": false,
            "tickColor": "white", "tickWidth": 1, "tickSize": -6,
            "domainColor": "white", "grid": false,
            "title": "Start Time (17-May-12 10:52:00)", "titleColor": "white", "titleFont": "DejaVu Sans Mono",
            "titleFontSize": 9.5, "titleFontWeight": "normal", "titlePadding": 4}},
        "x2": {"field": "t2"},
        "y": {"field": "v", "type": "quantitative",
          "scale": {"type": "log", "domain": [1e-9, 1e-3], "nice": false},
          "axis": {"orient": "left", "values": [1e-9, 1e-8, 1e-7, 1e-6, 1e-5, 1e-4, 1e-3],
            "labelExpr": "datum.value < 3e-9 ? '1E-9' : datum.value < 3e-8 ? 'A' : datum.value < 3e-7 ? 'B' : datum.value < 3e-6 ? 'C' : datum.value < 3e-5 ? 'M' : datum.value < 3e-4 ? 'X' : '1E-3'",
            "labelColor": "white", "labelFont": "DejaVu Sans Mono", "labelFontSize": 10.5,
            "labelFlush": true, "labelOverlap": false, "labelAlign": "center", "labelPadding": 30,
            "tickSize": -14, "tickColor": "white", "tickWidth": 1, "domainColor": "white",
            "grid": true, "gridColor": "white", "gridDash": [1, 3], "gridWidth": 1, "gridOpacity": 1,
            "title": null}},
        "y2": {"datum": 1e-9},
        "color": {"field": "grp", "type": "nominal", "legend": null,
          "scale": {"domain": ["blue", "orange", "magenta"], "range": ["#6464ff", "#ff8000", "#cc00cc"]}}
      }
    },
    {
      "data": {"name": "flux"},
      "mark": {"type": "line", "color": "white", "strokeWidth": 1, "clip": true},
      "encoding": {
        "x": {"field": "t", "type": "temporal"},
        "y": {"field": "v", "type": "quantitative"},
        "detail": {"field": "s", "type": "nominal"}
      }
    },
    {
      "data": {"values": [{"t": "2012-05-17T18:04", "v": 1e-8, "v2": 1e-7}]},
      "mark": {"type": "rule", "color": "#ffff00", "strokeWidth": 2},
      "encoding": {
        "x": {"field": "t", "type": "temporal"},
        "y": {"field": "v", "type": "quantitative"},
        "y2": {"field": "v2"}
      }
    },
    {
      "data": {"values": [{"t": "2012-05-17T19:04"}]},
      "mark": {"type": "rule", "color": "#99cc00", "strokeWidth": 2},
      "encoding": {"x": {"field": "t", "type": "temporal"}}
    },
    {
      "data": {"values": [{"t": "2012-05-17T19:04", "v": 3.6e-4, "text": "Event Peak"}]},
      "mark": {"type": "text", "color": "white", "font": "DejaVu Sans Mono", "fontSize": 10, "align": "left", "baseline": "middle", "dx": 11},
      "encoding": {
        "x": {"field": "t", "type": "temporal"},
        "y": {"field": "v", "type": "quantitative"},
        "text": {"field": "text"}
      }
    },
    {
      "data": {"name": "labels"},
      "mark": {"type": "text", "color": "white", "font": "Liberation Sans", "fontSize": 16, "align": "left", "baseline": "alphabetic", "dx": 1, "dy": -4},
      "encoding": {
        "x": {"field": "t", "type": "temporal"},
        "y": {"field": "v", "type": "quantitative"},
        "text": {"field": "label"}
      }
    },
    {
      "data": {"values": [{"t": "2012-05-17T10:52", "v": 3.6e-8, "text": "Sit & Stare"}, {"t": "2012-05-17T10:52", "v": 2.25e-9, "text": "Scan mode"}]},
      "mark": {"type": "text", "color": "#ffff00", "font": "DejaVu Sans Mono", "fontSize": 10, "align": "left", "baseline": "middle", "dx": -59},
      "encoding": {
        "x": {"field": "t", "type": "temporal"},
        "y": {"field": "v", "type": "quantitative"},
        "text": {"field": "text"}
      }
    },
    {
      "data": {"values": [{"t": "2012-05-17T10:52", "v": 2.15e-8, "text": "mode"}]},
      "mark": {"type": "text", "color": "#ffff00", "font": "DejaVu Sans Mono", "fontSize": 10, "align": "left", "baseline": "middle", "dx": -48},
      "encoding": {
        "x": {"field": "t", "type": "temporal"},
        "y": {"field": "v", "type": "quantitative"},
        "text": {"field": "text"}
      }
    },
    {
      "data": {"name": "hours"},
      "mark": {"type": "tick", "orient": "vertical", "color": "white", "thickness": 1, "size": 6, "clip": true, "opacity": 1},
      "encoding": {
        "x": {"field": "t", "type": "temporal"},
        "y": {"datum": 1e-3}
      }
    },
    {
      "data": {"name": "hours"},
      "mark": {"type": "tick", "orient": "vertical", "color": "white", "thickness": 1, "size": 6, "clip": true, "opacity": 1},
      "encoding": {
        "x": {"field": "t", "type": "temporal"},
        "y": {"datum": 1e-9}
      }
    },
    {
      "data": {"name": "hours"},
      "transform": [{"filter": "datum.major"}],
      "mark": {"type": "tick", "orient": "vertical", "color": "white", "thickness": 1, "size": 14, "clip": true, "opacity": 1},
      "encoding": {
        "x": {"field": "t", "type": "temporal"},
        "y": {"datum": 1e-3}
      }
    },
    {
      "data": {"name": "decades"},
      "mark": {"type": "tick", "orient": "horizontal", "color": "white", "thickness": 1, "size": 28, "clip": true, "opacity": 1},
      "encoding": {
        "x": {"datum": {"year": 2012, "month": 5, "date": 18, "hours": 2, "minutes": 58}, "type": "temporal"},
        "y": {"field": "v", "type": "quantitative"}
      }
    }
  ]
}
